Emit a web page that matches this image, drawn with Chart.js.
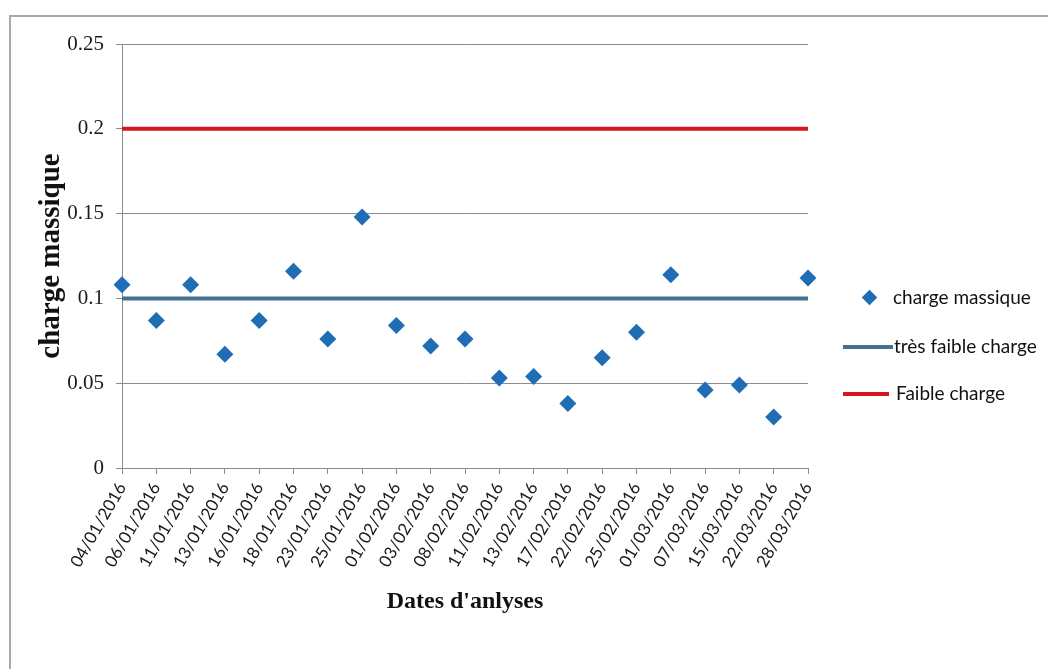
<!DOCTYPE html>
<html>
<head>
<meta charset="utf-8">
<script src="https://cdn.jsdelivr.net/npm/chart.js@4.4.1/dist/chart.umd.min.js"></script>
<style>
  html, body { margin: 0; padding: 0; background: #fff; }
  #wrap { position: relative; width: 1048px; height: 669px; overflow: hidden; }
  #frame { position: absolute; left: 9px; top: 15px; right: -5px; bottom: -5px;
           border-left: 2px solid #a9a9a9; border-top: 2px solid #a9a9a9; }
  #c { position: absolute; left: 0; top: 0; }
  .lg { position: absolute; font-family: 'Lato', 'Open Sans', sans-serif; font-size: 19px; color: #111;
        line-height: 22px; white-space: nowrap; letter-spacing: 0px; }
  .sw { position: absolute; }
</style>
</head>
<body>
<div id="wrap">
  <div id="frame"></div>
  <canvas id="c" width="1048" height="669"></canvas>
  <div class="sw" style="left:864px; top:292px; width:11px; height:11px; background:#1f6db4; transform:rotate(45deg);"></div>
  <div class="lg" style="left:893px; top:286px;">charge massique</div>
  <div class="sw" style="left:843px; top:345px; width:50px; height:4px; background:#43718f;"></div>
  <div class="lg" style="left:894px; top:335px;">très faible charge</div>
  <div class="sw" style="left:843px; top:392px; width:46px; height:4px; background:#d8161d;"></div>
  <div class="lg" style="left:896px; top:382px;">Faible charge</div>
</div>
<script>
const dates = ["04/01/2016","06/01/2016","11/01/2016","13/01/2016","16/01/2016","18/01/2016","23/01/2016",
  "25/01/2016","01/02/2016","03/02/2016","08/02/2016","11/02/2016","13/02/2016","17/02/2016","22/02/2016",
  "25/02/2016","01/03/2016","07/03/2016","15/03/2016","22/03/2016","28/03/2016"];
const chargeMassique = [0.108,0.087,0.108,0.067,0.087,0.116,0.076,0.148,0.084,0.072,0.076,0.053,0.054,0.038,0.065,0.080,0.114,0.046,0.049,0.030,0.112];
const tresFaibleCharge = [0.1,0.1,0.1,0.1,0.1,0.1,0.1,0.1,0.1,0.1,0.1,0.1,0.1,0.1,0.1,0.1,0.1,0.1,0.1,0.1,0.1];
const faibleCharge = [0.2,0.2,0.2,0.2,0.2,0.2,0.2,0.2,0.2,0.2,0.2,0.2,0.2,0.2,0.2,0.2,0.2,0.2,0.2,0.2,0.2];
const yTickValues = [0, 0.05, 0.1, 0.15, 0.2, 0.25];
const yTickLabels = ["0", "0.05", "0.1", "0.15", "0.2", "0.25"];

new Chart(document.getElementById('c'), {
  type: 'line',
  data: {
    labels: dates,
    datasets: [
      { label: 'charge massique', data: chargeMassique, showLine: false,
        pointStyle: 'rectRot', pointRadius: 8.5, pointHoverRadius: 8.5,
        pointBackgroundColor: '#1f6db4', pointBorderColor: '#1f6db4', pointBorderWidth: 0, order: 0 },
      { label: 'très faible charge', data: tresFaibleCharge, borderColor: '#43718f', borderWidth: 4,
        pointRadius: 0, borderCapStyle: 'butt', order: 1 },
      { label: 'Faible charge', data: faibleCharge, borderColor: '#d8161d', borderWidth: 4,
        pointRadius: 0, borderCapStyle: 'butt', order: 2 }
    ]
  },
  options: {
    responsive: false,
    animation: false,
    events: [],
    layout: { padding: { left: 30, right: 240, top: 44, bottom: 49 } },
    plugins: { legend: { display: false }, tooltip: { enabled: false } },
    scales: {
      x: {
        offset: false,
        grid: { display: true, drawOnChartArea: false, drawTicks: true, tickLength: 6, color: '#8c8c8c' },
        border: { display: true, color: '#8c8c8c', width: 1 },
        ticks: { autoSkip: false, minRotation: 60, maxRotation: 60, padding: 5,
                 color: '#1a1a1a', font: { family: "'Lato', 'Open Sans', sans-serif", size: 17 } },
        title: { display: true, text: "Dates d'anlyses", color: '#111', padding: { top: 4, bottom: 4 },
                 font: { family: "'Liberation Serif', 'Times New Roman', serif", size: 24, weight: 'bold' } },
        afterFit: (s) => { s.height = 669 - 468 - 49; }
      },
      y: {
        min: 0, max: 0.25,
        afterBuildTicks: (s) => { s.ticks = yTickValues.map(v => ({ value: v })); },
        grid: { color: '#8c8c8c', tickLength: 6, lineWidth: 1 },
        border: { display: true, color: '#8c8c8c', width: 1 },
        ticks: { padding: 12, color: '#1a1a1a',
                 callback: (v) => yTickLabels[yTickValues.indexOf(v)],
                 font: { family: "'Liberation Serif', 'Times New Roman', serif", size: 21 } },
        title: { display: true, text: 'charge massique', color: '#111', padding: { top: 4, bottom: 4 },
                 font: { family: "'Liberation Serif', 'Times New Roman', serif", size: 29, weight: 'bold' } },
        afterFit: (s) => { s.width = 122 - 30; }
      }
    }
  }
});
</script>
</body>
</html>
